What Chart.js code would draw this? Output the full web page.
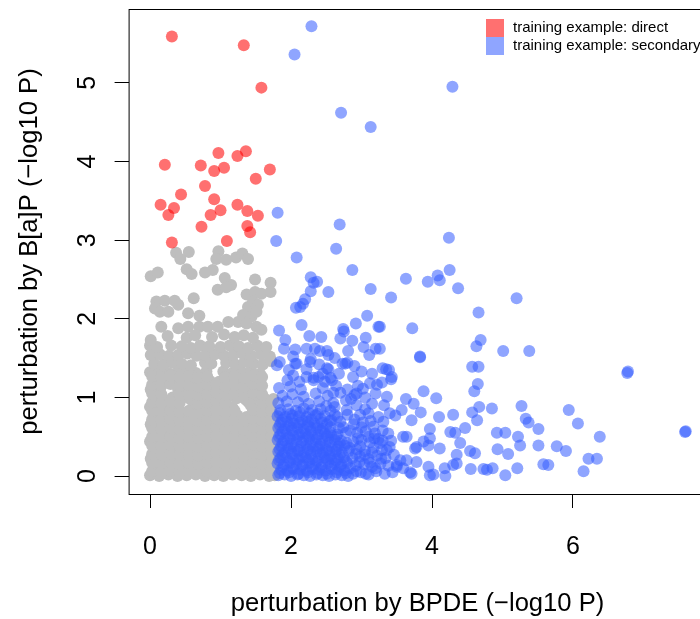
<!DOCTYPE html>
<html>
<head>
<meta charset="utf-8">
<title>perturbation scatter</title>
<script src="https://cdn.jsdelivr.net/npm/chart.js"></script>
<style>
  html, body { margin: 0; padding: 0; background: #fff; width: 700px; height: 619px; overflow: hidden; }
  canvas { display: block; }
</style>
</head>
<body>
<canvas id="scatter" width="720" height="619"></canvas>
<script>
// Axis ticks and titles
const xTicks = [0, 2, 4, 6];
const yTicks = [0, 1, 2, 3, 4, 5];
const xTitle = "perturbation by BPDE (\u2212log10 P)";
const yTitle = "perturbation by B[a]P (\u2212log10 P)";
const seriesLabels = ["training example: direct", "training example: secondary"];

// Training examples: direct  [BPDE, B[a]P]
const directPts = [
  [0.31,5.59],[1.33,5.48],[1.58,4.94],[0.21,3.96],[0.72,3.95],[0.97,4.11],[0.91,3.88],
  [1.05,3.92],[1.24,4.07],[1.36,4.13],[1.70,3.90],[1.50,3.78],[0.78,3.69],[0.44,3.58],
  [0.15,3.45],[0.34,3.41],[0.26,3.32],[0.91,3.52],[1.00,3.38],[0.86,3.32],[1.24,3.45],
  [1.38,3.37],[1.53,3.31],[0.73,3.17],[1.38,3.18],[1.42,3.10],[0.31,2.97],[1.09,2.99]
];

// Training examples: secondary
const secondaryPts = [
  // sparse upper part
  [2.29,5.72],[2.05,5.36],[2.71,4.62],[3.13,4.44],[4.29,4.95],[1.81,3.35],[2.69,3.20],
  [1.79,2.99],[2.64,2.89],[2.08,2.78],[4.24,3.03],[4.25,2.62],[3.63,2.51],[3.94,2.47],
  [4.08,2.55],[4.11,2.49],[4.37,2.39],[3.42,2.27],[5.20,2.26],[4.66,2.08],[2.87,2.62],
  [2.28,2.53],[2.32,2.46],[2.37,2.47],[2.28,2.35],[2.53,2.34],[3.13,2.38],[2.20,2.25],
  [2.17,2.19],[2.13,2.15],[2.07,2.14],[3.08,2.04],[2.92,1.94],[3.24,1.90],[3.72,1.88],
  [2.15,1.92],[2.74,1.87],[2.75,1.84],[1.83,1.85],[2.26,1.78],[2.43,1.77],[2.70,1.75],
  [3.06,1.76],[2.87,1.72],[1.92,1.73],[3.03,1.64],[3.20,1.62],[2.81,1.59],[2.22,1.62],
  [2.34,1.62],[2.41,1.59],[2.51,1.59],[2.53,1.54],[2.06,1.61],[1.90,1.62],[2.28,1.49],
  [3.11,1.54],[2.80,1.44],[2.73,1.43],[2.03,1.52],[1.84,1.45],[1.80,1.41],[2.08,1.43],
  [2.22,1.36],[2.53,1.36],[3.30,1.37],[3.39,1.35],[3.35,1.36],[3.83,1.51],[3.83,1.52],
  [2.03,1.28],[2.22,1.26],[2.32,1.25],[2.39,1.26],[2.56,1.25],[3.43,1.26],[4.69,1.73],
  [4.63,1.65],[5.01,1.59],[5.38,1.59],[4.57,1.39],[4.66,1.39],[6.77,1.31],[6.78,1.33],
  [3.26,1.90],[3.26,1.62],[3.42,1.23],[3.29,1.19],[4.65,1.17],[4.60,1.08],[3.88,1.08],
  [3.36,1.01],[4.06,0.99],[3.63,0.98],[3.74,0.92],[5.27,0.89],[5.94,0.84],[4.67,0.88],
  [4.85,0.86],[4.57,0.81],[4.64,0.71],[4.30,0.78],[4.10,0.75],[3.84,0.81],[3.57,0.84],
  [3.48,0.77],[3.71,0.71],[3.31,0.69],[5.33,0.73],[5.37,0.68],[6.07,0.67],[5.51,0.60],
  [6.38,0.50],[7.59,0.56],[7.60,0.57],[4.92,0.55],[5.04,0.55],[5.22,0.50],[5.25,0.39],
  [5.51,0.39],[5.77,0.38],[5.90,0.32],[4.93,0.34],[5.08,0.28],[4.47,0.61],[4.26,0.56],
  [4.33,0.55],[3.97,0.60],[3.64,0.50],[3.97,0.48],[4.40,0.42],[4.54,0.32],[4.61,0.29],
  [4.11,0.35],[4.35,0.27],[6.22,0.22],[6.34,0.22],[5.58,0.15],[5.65,0.14],[6.15,0.06],
  [4.55,0.09],[4.73,0.09],[4.78,0.08],[4.86,0.10],[5.21,0.10],[5.04,0.01],[4.18,0.10],
  [4.30,0.14],[4.35,0.16],[4.19,0.00],[3.97,0.01],[4.02,0.02],[3.78,0.18],[3.69,0.05],
  [3.95,0.12],[3.88,0.44],[3.95,0.39],[3.76,0.35],[3.38,0.54],[3.40,0.37],[3.55,0.20],
  [3.59,0.10],[3.59,0.50],[3.64,0.20],[3.71,0.03],[3.50,0.12],[3.78,0.37],
  // dense core next to the background cloud
  [1.82,0.01],[1.91,0.02],[2.00,0.00],[2.09,0.02],[2.18,0.01],[2.27,0.00],[2.36,0.02],
  [2.45,0.01],[2.54,0.00],[2.63,0.02],[2.72,0.01],[2.81,0.00],
  [1.86,0.08],[1.95,0.07],[2.04,0.09],[2.13,0.08],[2.22,0.07],[2.31,0.09],[2.40,0.08],
  [2.49,0.07],[2.58,0.09],[2.67,0.08],[2.76,0.07],
  [1.81,0.16],[1.90,0.15],[1.99,0.17],[2.08,0.16],[2.17,0.15],[2.26,0.17],[2.35,0.16],
  [2.44,0.15],[2.53,0.17],[2.62,0.16],[2.71,0.15],[2.80,0.17],
  [1.85,0.23],[1.94,0.24],[2.03,0.22],[2.12,0.23],[2.21,0.24],[2.30,0.22],[2.39,0.23],
  [2.48,0.24],[2.57,0.22],[2.66,0.23],[2.75,0.24],
  [1.82,0.31],[1.91,0.30],[2.00,0.32],[2.09,0.31],[2.18,0.30],[2.27,0.32],[2.36,0.31],
  [2.45,0.30],[2.54,0.32],[2.63,0.31],[2.72,0.30],[2.82,0.32],
  [1.86,0.38],[1.95,0.39],[2.04,0.37],[2.13,0.38],[2.22,0.39],[2.31,0.37],[2.40,0.38],
  [2.49,0.39],[2.58,0.37],[2.67,0.38],[2.76,0.39],
  [1.81,0.46],[1.90,0.45],[1.99,0.47],[2.08,0.46],[2.17,0.45],[2.26,0.47],[2.35,0.46],
  [2.44,0.45],[2.53,0.47],[2.62,0.46],[2.71,0.45],
  [1.85,0.53],[1.94,0.54],[2.03,0.52],[2.12,0.53],[2.21,0.54],[2.30,0.52],[2.39,0.53],
  [2.48,0.54],[2.57,0.52],[2.66,0.53],[2.78,0.55],
  [1.82,0.61],[1.91,0.60],[2.00,0.62],[2.09,0.61],[2.18,0.60],[2.27,0.62],[2.36,0.61],
  [2.45,0.60],[2.56,0.62],[2.68,0.61],
  [1.86,0.68],[1.95,0.69],[2.04,0.67],[2.13,0.68],[2.24,0.69],[2.33,0.67],[2.44,0.68],
  [2.55,0.70],[2.70,0.69],
  [1.81,0.76],[1.92,0.75],[2.02,0.77],[2.11,0.76],[2.22,0.75],[2.35,0.77],[2.48,0.76],[2.62,0.78],
  [1.85,0.84],[1.96,0.85],[2.07,0.83],[2.18,0.86],[2.30,0.84],[2.42,0.85],[2.56,0.83],
  [1.82,0.93],[1.94,0.95],[2.10,0.94],[2.25,0.92],[2.40,0.95],[2.60,0.93],[2.78,0.96],
  [1.88,1.02],[2.02,1.04],[2.18,1.01],[2.35,1.05],[2.52,1.02],[2.70,1.06],[2.90,1.03],
  [1.83,1.12],[1.99,1.14],[2.14,1.10],[2.45,1.12],[2.64,1.15],[3.02,1.11],
  // second layer in the core
  [1.84,0.04],[1.97,0.05],[2.11,0.03],[2.24,0.05],[2.38,0.04],[2.51,0.03],[2.65,0.05],
  [2.78,0.04],[2.93,0.06],[3.06,0.03],[3.20,0.10],
  [1.89,0.12],[2.02,0.11],[2.16,0.13],[2.29,0.12],[2.43,0.11],[2.56,0.13],[2.70,0.12],
  [2.84,0.10],[2.97,0.18],[3.12,0.17],
  [1.83,0.20],[1.97,0.19],[2.10,0.21],[2.24,0.20],[2.37,0.19],[2.51,0.21],[2.64,0.20],
  [2.78,0.19],[2.92,0.28],[3.05,0.27],
  [1.88,0.27],[2.01,0.28],[2.15,0.26],[2.28,0.27],[2.42,0.28],[2.55,0.26],[2.69,0.27],
  [2.83,0.36],[2.98,0.38],
  [1.84,0.34],[1.97,0.35],[2.11,0.33],[2.24,0.34],[2.38,0.35],[2.51,0.33],[2.65,0.34],
  [2.79,0.42],[2.95,0.48],[3.10,0.50],
  [1.88,0.42],[2.01,0.41],[2.15,0.43],[2.28,0.42],[2.42,0.41],[2.55,0.43],[2.69,0.42],
  [2.84,0.58],[3.00,0.62],[3.13,0.70],
  [1.83,0.50],[1.97,0.49],[2.10,0.51],[2.24,0.50],[2.37,0.49],[2.51,0.51],[2.64,0.50],
  [2.74,0.62],[2.90,0.72],[3.05,0.85],
  [1.88,0.57],[2.01,0.58],[2.15,0.56],[2.28,0.57],[2.42,0.58],[2.55,0.56],[2.66,0.75],[2.80,0.78],
  [1.84,0.65],[1.97,0.64],[2.11,0.66],[2.24,0.65],[2.38,0.64],[2.51,0.66],[2.62,0.88],
  [1.88,0.72],[2.01,0.73],[2.16,0.71],[2.29,0.72],[2.42,0.73],[2.57,0.71],
  [1.84,0.80],[1.99,0.79],[2.13,0.81],[2.26,0.80],[2.38,0.79],[2.50,0.89],
  [3.15,0.30],[3.28,0.22],[3.36,0.33],[3.30,0.45],[3.18,0.48],
  // middle block
  [2.88,0.03],[2.99,0.05],[3.10,0.02],[3.21,0.06],[3.33,0.03],[3.44,0.05],
  [2.92,0.13],[3.04,0.15],[3.15,0.12],[3.27,0.16],[3.38,0.13],[3.50,0.14],
  [2.87,0.23],[2.98,0.25],[3.10,0.22],[3.22,0.26],[3.34,0.23],[3.46,0.27],
  [2.93,0.34],[3.05,0.32],[3.17,0.36],[3.29,0.33],[3.42,0.45],
  [2.88,0.44],[3.00,0.46],[3.12,0.43],[3.24,0.47],[3.26,0.42],
  [2.94,0.55],[3.06,0.57],[3.19,0.54],[3.30,0.58],
  [2.89,0.66],[3.02,0.68],[3.17,0.63],[3.24,0.75],
  [2.98,0.78],[3.10,0.80],[2.79,0.84],[2.93,0.90],[3.15,0.92],
  [2.93,1.05],[3.12,1.18],[3.22,1.16],[2.58,1.22],[2.32,1.22],[2.06,1.43],[2.27,1.45],
  [2.51,1.37],[2.77,1.43],
  [1.95,1.22],[2.12,1.20],[2.48,1.20],[2.68,1.30],[2.88,1.26],[3.00,1.33],[2.95,1.15],
  [2.80,1.10],[2.60,1.06],[3.20,1.05],[3.32,0.90],[3.40,0.80],[2.85,0.98],[3.05,1.00],
  [2.45,1.30],[1.97,1.35],[2.40,1.42],[2.62,1.50],[2.90,1.40],[3.15,1.30]
];

// Other genes (grey background cloud)
const backgroundPts = [
  [0.37,2.84],[0.55,2.85],[0.43,2.76],[0.97,2.86],[0.94,2.76],[1.08,2.75],[1.22,2.78],
  [1.31,2.83],[1.39,2.76],[0.01,2.54],[0.11,2.59],[0.52,2.63],[0.59,2.57],[0.78,2.59],
  [0.89,2.62],[1.06,2.52],[1.15,2.43],[0.96,2.37],[1.08,2.40],[1.49,2.50],[1.71,2.46],
  [1.37,2.31],[1.49,2.34],[1.58,2.32],[1.71,2.34],[0.62,2.26],[0.09,2.22],[0.21,2.23],
  [0.35,2.23],[0.40,2.18],[0.07,2.13],[0.14,2.09],[0.26,2.09],[0.54,2.07],[0.70,2.04],
  [1.39,2.15],[1.46,2.22],[1.53,2.18],[1.32,2.05],[1.44,2.03],[1.51,2.09],
  [0.16,1.90],[0.40,1.88],[0.54,1.90],[0.70,1.90],[0.82,1.90],[0.96,1.90],[1.11,1.96],
  [1.25,1.96],[1.37,1.94],[1.51,1.90],[1.58,1.86],
  [0.00,0.01],[0.13,0.00],[0.26,0.02],[0.39,0.00],[0.52,0.01],[0.65,0.02],[0.78,0.00],
  [0.91,0.01],[1.04,0.00],[1.17,0.02],[1.30,0.01],[1.43,0.00],[1.56,0.02],[1.69,0.00],[1.77,0.01],
  [0.06,0.11],[0.19,0.12],[0.32,0.10],[0.45,0.11],[0.58,0.13],[0.71,0.10],[0.84,0.12],
  [0.97,0.11],[1.10,0.10],[1.23,0.12],[1.36,0.11],[1.49,0.13],[1.62,0.10],[1.75,0.11],
  [0.01,0.22],[0.14,0.21],[0.27,0.23],[0.40,0.22],[0.53,0.20],[0.66,0.23],[0.79,0.22],
  [0.92,0.21],[1.05,0.23],[1.18,0.22],[1.31,0.20],[1.44,0.23],[1.57,0.22],[1.70,0.21],[1.78,0.23],
  [0.07,0.33],[0.20,0.32],[0.33,0.34],[0.46,0.33],[0.59,0.31],[0.72,0.34],[0.85,0.33],
  [0.98,0.32],[1.11,0.34],[1.24,0.33],[1.37,0.31],[1.50,0.34],[1.63,0.33],[1.76,0.32],
  [0.00,0.44],[0.13,0.45],[0.26,0.43],[0.39,0.44],[0.52,0.46],[0.65,0.43],[0.78,0.44],
  [0.91,0.45],[1.04,0.43],[1.17,0.44],[1.30,0.46],[1.43,0.43],[1.56,0.44],[1.69,0.45],[1.77,0.43],
  [0.06,0.55],[0.19,0.54],[0.32,0.56],[0.45,0.55],[0.58,0.53],[0.71,0.56],[0.84,0.55],
  [0.97,0.54],[1.10,0.56],[1.23,0.55],[1.36,0.53],[1.49,0.56],[1.62,0.55],[1.75,0.54],
  [0.01,0.66],[0.14,0.67],[0.27,0.65],[0.40,0.66],[0.53,0.68],[0.66,0.65],[0.79,0.66],
  [0.92,0.67],[1.05,0.65],[1.18,0.66],[1.31,0.68],[1.44,0.65],[1.57,0.66],[1.70,0.67],[1.78,0.65],
  [0.07,0.77],[0.20,0.76],[0.33,0.78],[0.46,0.77],[0.59,0.75],[0.72,0.78],[0.85,0.77],
  [0.98,0.76],[1.11,0.78],[1.24,0.77],[1.37,0.75],[1.50,0.78],[1.63,0.77],[1.76,0.76],
  [0.00,0.88],[0.13,0.89],[0.26,0.87],[0.39,0.88],[0.65,0.90],[0.78,0.87],[0.91,0.88],
  [1.04,0.89],[1.17,0.87],[1.43,0.90],[1.56,0.87],[1.69,0.88],
  [0.06,0.99],[0.19,0.98],[0.32,1.00],[0.45,0.99],[0.58,0.97],[0.71,1.00],[0.84,0.99],
  [0.97,0.98],[1.10,1.00],[1.23,0.99],[1.36,0.97],[1.49,1.00],[1.62,0.99],[1.75,0.98],
  [0.01,1.10],[0.14,1.11],[0.40,1.10],[0.53,1.12],[0.66,1.09],[0.79,1.10],[0.92,1.11],
  [1.05,1.09],[1.18,1.10],[1.31,1.12],[1.44,1.09],[1.55,1.10],
  [0.07,1.21],[0.20,1.20],[0.33,1.22],[0.46,1.21],[0.59,1.19],[0.72,1.22],[0.85,1.21],
  [0.98,1.20],[1.11,1.22],[1.24,1.21],[1.37,1.19],[1.50,1.22],
  [0.00,1.32],[0.13,1.33],[0.26,1.31],[0.39,1.32],[0.52,1.34],[0.65,1.31],[0.80,1.33],
  [1.04,1.33],[1.17,1.31],[1.30,1.32],[1.43,1.34],[1.56,1.30],
  [0.06,1.43],[0.19,1.42],[0.32,1.44],[0.45,1.43],[0.58,1.41],[0.78,1.44],[0.87,1.43],
  [1.08,1.44],[1.21,1.42],[1.34,1.45],[1.47,1.43],[1.60,1.42],[1.72,1.46],
  [0.01,1.54],[0.14,1.55],[0.27,1.53],[0.40,1.54],[0.53,1.56],[0.66,1.53],[0.79,1.54],
  [0.92,1.55],[1.05,1.53],[1.18,1.54],[1.31,1.56],[1.44,1.53],[1.57,1.55],[1.70,1.52],
  [0.00,1.66],[0.10,1.64],[0.30,1.66],[0.45,1.65],[0.58,1.63],[0.71,1.66],[0.84,1.65],
  [1.00,1.64],[1.13,1.66],[1.26,1.65],[1.39,1.63],[1.52,1.66],[1.65,1.64],
  [0.01,1.73],[0.25,1.78],[0.52,1.76],[0.64,1.79],[0.88,1.77],[1.05,1.80],[1.20,1.77],
  [1.33,1.79],[1.46,1.76],
  // in-between genes of the dense lower block
  [0.03,0.06],[0.16,0.05],[0.29,0.07],[0.42,0.05],[0.55,0.06],[0.68,0.04],[0.81,0.06],
  [0.94,0.07],[1.07,0.05],[1.20,0.06],[1.33,0.04],[1.46,0.07],[1.59,0.05],[1.72,0.06],
  [0.03,0.17],[0.16,0.16],[0.29,0.18],[0.42,0.16],[0.55,0.17],[0.68,0.15],[0.81,0.17],
  [0.94,0.18],[1.07,0.16],[1.20,0.17],[1.33,0.15],[1.46,0.18],[1.59,0.16],[1.72,0.17],
  [0.03,0.28],[0.16,0.27],[0.29,0.29],[0.42,0.27],[0.55,0.28],[0.68,0.26],[0.81,0.28],
  [0.94,0.29],[1.07,0.27],[1.20,0.28],[1.33,0.26],[1.46,0.29],[1.59,0.27],[1.72,0.28],
  [0.03,0.39],[0.16,0.38],[0.29,0.40],[0.42,0.38],[0.55,0.39],[0.68,0.37],[0.81,0.39],
  [0.94,0.40],[1.07,0.38],[1.20,0.39],[1.33,0.37],[1.46,0.40],[1.59,0.38],[1.72,0.39],
  [0.03,0.50],[0.16,0.49],[0.29,0.51],[0.42,0.49],[0.55,0.50],[0.68,0.48],[0.81,0.50],
  [0.94,0.51],[1.07,0.49],[1.20,0.50],[1.33,0.48],[1.46,0.51],[1.59,0.49],[1.72,0.50],
  [0.03,0.61],[0.16,0.60],[0.29,0.62],[0.42,0.60],[0.55,0.61],[0.68,0.59],[0.81,0.61],
  [0.94,0.62],[1.07,0.60],[1.20,0.61],[1.33,0.59],[1.46,0.62],[1.59,0.60],[1.72,0.61],
  [0.03,0.72],[0.16,0.71],[0.29,0.73],[0.42,0.71],[0.55,0.72],[0.68,0.70],[0.81,0.72],
  [0.94,0.73],[1.07,0.71],[1.20,0.72],[1.33,0.70],[1.46,0.73],[1.59,0.71],[1.72,0.72],
  [0.03,0.83],[0.16,0.82],[0.29,0.84],[0.42,0.82],[0.55,0.83],[0.68,0.81],[0.81,0.83],
  [0.94,0.84],[1.07,0.82],[1.20,0.83],[1.46,0.84],[1.59,0.82],[1.72,0.83],
  [0.03,0.94],[0.16,0.93],[0.29,0.95],[0.42,0.93],[0.68,0.92],[0.81,0.94],[0.94,0.95],
  [1.07,0.93],[1.40,0.94],[1.59,0.93],[1.72,0.94],
  [0.03,1.05],[0.16,1.04],[0.42,1.04],[0.55,1.05],[0.68,1.03],[0.81,1.05],[0.94,1.06],
  [1.07,1.04],[1.20,1.05],[1.33,1.03],[1.46,1.06],[1.59,1.04],
  [0.03,1.16],[0.16,1.15],[0.29,1.17],[0.42,1.15],[0.55,1.16],[0.68,1.14],[0.81,1.16],
  [0.94,1.17],[1.07,1.15],[1.20,1.16],[1.33,1.14],[1.46,1.17],[1.59,1.15],
  [0.03,1.27],[0.16,1.26],[0.29,1.28],[0.42,1.26],[0.55,1.27],[0.68,1.25],[0.81,1.27],
  [1.07,1.26],[1.20,1.27],[1.33,1.25],[1.46,1.28],[1.59,1.26]
];

const FONT = '"Liberation Sans", Arial, Helvetica, sans-serif';
const directColor = "rgba(255, 0, 0, 0.56)";
const secondaryColor = "rgba(55, 95, 255, 0.56)";
const backgroundColor = "#bebebe";

const toXY = (pts) => pts.map(([x, y]) => ({ x, y }));

// R-style box around the plot region
const plotBox = {
  id: "plotBox",
  afterDraw(chart) {
    const { ctx, chartArea: a } = chart;
    ctx.save();
    ctx.strokeStyle = "#000";
    ctx.lineWidth = 1;
    ctx.strokeRect(a.left + 0.5, a.top + 0.5, a.right - a.left, a.bottom - a.top);
    ctx.restore();
  }
};

// legend in the top right corner, filled squares, no frame
const cornerLegend = {
  id: "cornerLegend",
  afterDraw(chart) {
    const ctx = chart.ctx;
    const boxX = 486, boxY = 19, size = 18;
    ctx.save();
    ctx.font = "15px " + FONT;
    ctx.textBaseline = "middle";
    chart.data.datasets.forEach((ds) => {
      const row = seriesLabels.indexOf(ds.label);
      if (row < 0) return;
      ctx.fillStyle = ds.backgroundColor;
      ctx.fillRect(boxX, boxY + row * size, size, size);
      ctx.fillStyle = "#000";
      ctx.fillText(ds.label, boxX + size + 9, boxY + row * size + size / 2);
    });
    ctx.restore();
  }
};

const ctx = document.getElementById("scatter").getContext("2d");
new Chart(ctx, {
  type: "scatter",
  data: {
    datasets: [
      { label: seriesLabels[0], data: toXY(directPts), backgroundColor: directColor, order: 0 },
      { label: seriesLabels[1], data: toXY(secondaryPts), backgroundColor: secondaryColor, order: 1 },
      { label: "other", data: toXY(backgroundPts), backgroundColor: backgroundColor, order: 2 }
    ]
  },
  options: {
    responsive: false,
    animation: false,
    elements: { point: { radius: 6, borderWidth: 0, hoverRadius: 6 } },
    layout: { padding: { top: 9, right: 13.5, left: 0, bottom: 0 } },
    plugins: { legend: { display: false }, tooltip: { enabled: false } },
    scales: {
      x: {
        type: "linear",
        min: -0.304,
        max: 7.894,
        afterBuildTicks: (axis) => { axis.ticks = xTicks.map((v) => ({ value: v })); },
        afterFit: (axis) => { axis.height = 125; axis.paddingLeft = 0; axis.paddingRight = 0; },
        border: { display: false },
        grid: { drawOnChartArea: false, tickLength: 14, color: "#000" },
        ticks: { padding: 24, color: "#000", font: { family: FONT, size: 25 } },
        title: { display: true, text: xTitle, color: "#000", font: { family: FONT, size: 25.6 }, padding: { top: 0, bottom: 0 } }
      },
      y: {
        type: "linear",
        min: -0.228,
        max: 5.94,
        afterBuildTicks: (axis) => { axis.ticks = yTicks.map((v) => ({ value: v })); },
        afterFit: (axis) => { axis.width = 128.6; axis.paddingTop = 0; axis.paddingBottom = 0; },
        border: { display: false },
        grid: { drawOnChartArea: false, tickLength: 14, color: "#000" },
        ticks: { padding: 20, minRotation: 90, maxRotation: 90, crossAlign: "center", color: "#000", font: { family: FONT, size: 25 } },
        title: { display: true, text: yTitle, color: "#000", font: { family: FONT, size: 25.6 }, padding: { top: 15, bottom: 0 } }
      }
    }
  },
  plugins: [plotBox, cornerLegend]
});
</script>
</body>
</html>
